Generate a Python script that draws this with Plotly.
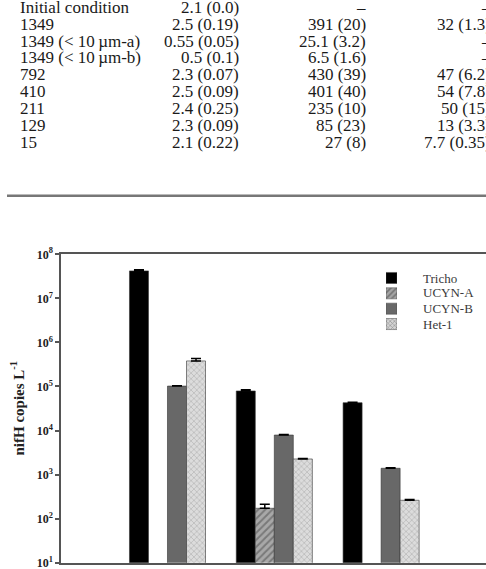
import plotly.graph_objects as go

W, H = 486, 569

# ---------------- table data ----------------
row_labels = ["Initial condition", "1349", "1349 (< 10\u2009\u00b5m-a)", "1349 (< 10\u2009\u00b5m-b)",
              "792", "410", "211", "129", "15"]
col2 = ["2.1 (0.0)", "2.5 (0.19)", "0.55 (0.05)", "0.5 (0.1)", "2.3 (0.07)",
        "2.5 (0.09)", "2.4 (0.25)", "2.3 (0.09)", "2.1 (0.22)"]
col3 = ["\u2013", "391 (20)", "25.1 (3.2)", "6.5 (1.6)", "430 (39)",
        "401 (40)", "235 (10)", "85 (23)", "27 (8)"]
col4 = ["\u2013", "32 (1.3)", "\u2013", "\u2013", "47 (6.2)",
        "54 (7.8)", "50 (15)", "13 (3.3)", "7.7 (0.35)"]

# ---------------- chart data ----------------
groups = [1, 2, 3]
series = ["Tricho", "UCYN-A", "UCYN-B", "Het-1"]
tricho = [4.2e7, 7.9e4, 4.28e4]
tricho_err = [2.5e6, 5e3, 1e3]
ucyn_a = [None, 172, None]
ucyn_a_err = [0, 40, 0]
ucyn_b = [1.02e5, 7.9e3, 1.39e3]
ucyn_b_err = [2e3, 2e2, 40]
het1 = [3.8e5, 2.26e3, 261]
het1_err = [5e4, 60, 12]

tick_vals = [10, 100, 1e3, 1e4, 1e5, 1e6, 1e7, 1e8]
tick_text = ["<b>10<sup>%d</sup></b>" % e for e in range(1, 9)]

def X(px):
    return px / W

def Y(px):
    return 1 - px / H

SERIF = "Liberation Serif, Times New Roman, serif"

styles = {
    "Tricho": dict(color="#000000", pattern=dict(shape="")),
    "UCYN-A": dict(color="#a4a4a4", pattern=dict(shape="/", fgcolor="#4a4a4a", bgcolor="#a8a8a8", size=5, solidity=0.4)),
    "UCYN-B": dict(color="#686868", pattern=dict(shape="")),
    "Het-1": dict(color="#d4d4d4", pattern=dict(shape="x", fgcolor="#9a9a9a", bgcolor="#dcdcdc", size=4, solidity=0.35)),
}

fig = go.Figure()
vals = {"Tricho": (tricho, tricho_err), "UCYN-A": (ucyn_a, ucyn_a_err),
        "UCYN-B": (ucyn_b, ucyn_b_err), "Het-1": (het1, het1_err)}
for name in series:
    v, e = vals[name]
    st = styles[name]
    fig.add_trace(go.Bar(
        x=groups, y=v, name=name, showlegend=False,
        marker=dict(color=st["color"], pattern=st["pattern"],
                    line=dict(color="#333333", width=0.6)),
        error_y=dict(type="data", array=e, arrayminus=[0] * len(e), symmetric=False,
                     color="#000000", thickness=1.5, width=5),
        xaxis="x", yaxis="y",
    ))

# legend swatches as tiny horizontal bars on their own axes
fig.add_trace(go.Bar(
    y=list(range(len(series))), x=[1] * len(series), orientation="h", width=0.72,
    showlegend=False, xaxis="x2", yaxis="y2", hoverinfo="skip",
    marker=dict(
        color=[styles[s]["color"] for s in series],
        pattern=dict(shape=["", "/", "", "x"],
                     fgcolor=["#000000", "#4a4a4a", "#686868", "#9a9a9a"],
                     bgcolor=["#000000", "#a8a8a8", "#686868", "#dcdcdc"],
                     size=[4, 4, 4, 3], solidity=[0.3, 0.4, 0.3, 0.35]),
        line=dict(color="#444444", width=0.5)),
))

axis_col = "#555555"
fig.update_layout(
    width=W, height=H,
    margin=dict(l=0, r=0, t=0, b=0, autoexpand=False),
    paper_bgcolor="white", plot_bgcolor="white",
    barmode="group", bargap=0.288, bargroupgap=0,
    xaxis=dict(domain=[X(61), 1], range=[0.003, 3.982], showticklabels=False,
               ticks="", showgrid=False, zeroline=False, automargin=False,
               showline=True, linecolor=axis_col, linewidth=1.5, mirror=True),
    yaxis=dict(domain=[Y(562.7), Y(254.3)], type="log", range=[1, 8],
               tickvals=tick_vals, ticktext=tick_text, ticks="outside", ticklen=4,
               tickwidth=1.5, tickcolor=axis_col, showgrid=False, zeroline=False,
               showline=True, linecolor=axis_col, linewidth=1.5, automargin=False,
               ticklabeloverflow="allow",
               tickfont=dict(family=SERIF, size=12, color="#222222")),
    xaxis2=dict(domain=[X(386), X(397)], range=[0, 1], visible=False, anchor="y2"),
    yaxis2=dict(domain=[Y(331.7), Y(270.3)], range=[3.5, -0.5], visible=False, anchor="x2"),
    font=dict(family=SERIF),
)

# legend text
legend_y = [278, 293, 308.5, 324]
for name, yy in zip(series, legend_y):
    fig.add_annotation(x=X(421), y=Y(yy), xref="paper", yref="paper", text=name,
                       showarrow=False, xanchor="left", yanchor="middle",
                       font=dict(family=SERIF, size=13, color="#3a3a3a"))

# y axis title
fig.add_annotation(x=X(17.5), y=Y(408), xref="paper", yref="paper",
                   text="<b>nifH copies L<sup>-1</sup></b>", textangle=-90,
                   showarrow=False, xanchor="center", yanchor="middle",
                   font=dict(family=SERIF, size=15, color="#222222"))

# table rows
row0, dy = 7.2, 16.91
for i in range(len(row_labels)):
    yy = Y(row0 + i * dy)
    fig.add_annotation(x=X(18.3), y=yy, xref="paper", yref="paper", text=row_labels[i],
                       showarrow=False, xanchor="left", yanchor="middle",
                       font=dict(family=SERIF, size=17, color="#1a1a1a"))
    for col, xr in ((col2, 241), (col3, 368), (col4, 493)):
        fig.add_annotation(x=X(xr), y=yy, xref="paper", yref="paper", text=col[i],
                           showarrow=False, xanchor="right", yanchor="middle",
                           font=dict(family=SERIF, size=17, color="#1a1a1a"))

# table bottom rule
fig.add_shape(type="line", xref="paper", yref="paper", x0=X(7), x1=1.02,
              y0=Y(195.7), y1=Y(195.7), line=dict(color="#777777", width=2.5))

fig.write_html("out.html")
